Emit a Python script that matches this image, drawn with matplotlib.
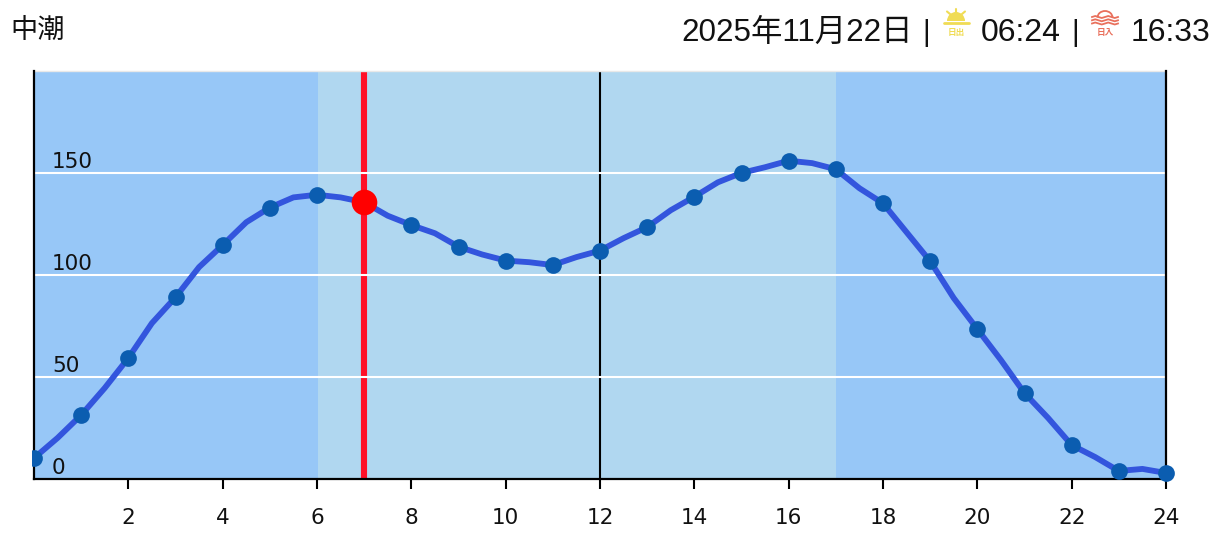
import matplotlib
matplotlib.use("Agg")
import matplotlib.pyplot as plt
from matplotlib.patches import Rectangle, Wedge, Arc
from matplotlib.transforms import IdentityTransform

hours = [0, 1, 2, 3, 4, 5, 6, 7, 8, 9, 10, 11, 12, 13, 14, 15, 16, 17, 18, 19, 20, 21, 22, 23, 24]
tide_hourly = [10.1, 31.2, 59.2, 89.0, 114.6, 133.0, 139.3, 135.6, 124.4, 113.8, 107.0, 104.8, 111.9,
               123.4, 138.3, 150.0, 156.0, 151.8, 135.1, 106.7, 73.4, 42.0, 16.5, 3.8, 2.8]
half_hours = [0.0, 0.5, 1.0, 1.5, 2.0, 2.5, 3.0, 3.5, 4.0, 4.5, 5.0, 5.5, 6.0, 6.5, 7.0, 7.5, 8.0, 8.5,
              9.0, 9.5, 10.0, 10.5, 11.0, 11.5, 12.0, 12.5, 13.0, 13.5, 14.0, 14.5, 15.0, 15.5, 16.0,
              16.5, 17.0, 17.5, 18.0, 18.5, 19.0, 19.5, 20.0, 20.5, 21.0, 21.5, 22.0, 22.5, 23.0, 23.5, 24.0]
tide_curve = [10.1, 20.0, 31.2, 44.5, 59.2, 76.3, 89.0, 103.8, 114.6, 125.8, 133.0, 138.0, 139.3, 138.0,
              135.6, 129.0, 124.4, 120.4, 113.8, 110.0, 107.0, 106.2, 104.8, 108.7, 111.9, 118.0, 123.4,
              131.7, 138.3, 145.4, 150.0, 152.8, 156.0, 154.8, 151.8, 142.5, 135.1, 120.9, 106.7, 88.6,
              73.4, 58.2, 42.0, 29.8, 16.5, 10.6, 3.8, 4.8, 2.8]
x_ticks = [2, 4, 6, 8, 10, 12, 14, 16, 18, 20, 22, 24]
y_levels = [0, 50, 100, 150]
grid_levels = [50, 100, 150]
day_start, day_end = 6, 17
noon = 12
now_hour, now_value = 7, 135.6

title_left = "中潮"
date_text = "2025年11月22日"
sunrise_text = "06:24"
sunset_text = "16:33"
separator = "|"

W, H = 1228, 552
fig = plt.figure(figsize=(W / 100, H / 100), dpi=100, facecolor="white")
L, R, T, B = 34, 1166, 71, 478.7
ax = fig.add_axes([L / W, 1 - B / H, (R - L) / W, (B - T) / H])
ax.set_xlim(0, 24)
ax.set_ylim(0, 200)
ax.set_facecolor("#97C7F7")

ax.axvspan(day_start + 0.02, day_end, color="#B0D7F0", lw=0, zorder=1)
ax.axvline(noon, color="black", lw=1.5, zorder=2)
ax.axvline(now_hour, color="#FF1028", lw=4.4, zorder=2)
for v in grid_levels:
    ax.axhline(v, color="white", lw=1.5, zorder=3)

ax.plot(half_hours, tide_curve, color="#3355DD", lw=4.2, zorder=4,
        solid_joinstyle="round", solid_capstyle="round")
clip = Rectangle((32, 0), W, H, transform=IdentityTransform())
pts = ax.scatter(hours, tide_hourly, s=145, color="#0B5DB0", lw=0, zorder=5, clip_on=True)
pts.set_clip_path(clip)
ax.scatter([now_hour], [now_value], s=340, color="#FF0000", lw=0, zorder=6, clip_on=False)

for side in ("left", "right", "bottom"):
    ax.spines[side].set_linewidth(1.6)
    ax.spines[side].set_color("black")
    ax.spines[side].set_zorder(4)
ax.spines["top"].set_color("#E8E8E8")
ax.spines["top"].set_linewidth(1.0)

ax.set_xticks(x_ticks)
ax.set_xticklabels([str(t) for t in x_ticks], fontsize=15.5, family="DejaVu Sans", color="#111111")
ax.tick_params(axis="x", length=7, width=1.5, pad=14, color="black")
ax.set_yticks([])

for v in y_levels:
    ax.annotate(str(v), xy=(0, v), xytext=(18, 1), textcoords="offset pixels",
                fontsize=15.5, family="DejaVu Sans", color="#111111", va="bottom", ha="left",
                annotation_clip=False, zorder=7)

over = fig.add_axes([0, 0, 1, 1], facecolor="none")
over.set_xlim(0, W)
over.set_ylim(H, 0)
over.axis("off")

head_font = ["Liberation Sans", "Noto Sans CJK JP"]
dark = "#111111"
over.text(10, 30, title_left, fontsize=19.6, family=["Noto Sans CJK JP"], va="center", ha="left", color=dark)
over.text(681, 33, date_text, fontsize=22.6, family=head_font, va="center", ha="left", color=dark)
over.text(926, 33, separator, fontsize=21, family=head_font, va="center", ha="center", color=dark)
over.text(981, 33, sunrise_text, fontsize=23.0, family=head_font, va="center", ha="left", color=dark)
over.text(1075, 33, separator, fontsize=21, family=head_font, va="center", ha="center", color=dark)
over.text(1131, 33, sunset_text, fontsize=23.0, family=head_font, va="center", ha="left", color=dark)

# sunrise icon
sun = "#F0DC55"
cx, cy = 956, 21
over.add_patch(Wedge((cx, cy), 9, 180, 360, color=sun, lw=0))
over.plot([cx - 12.5, cx + 12.5], [cy + 1.5, cy + 1.5], color=sun, lw=2.0, solid_capstyle="round")
for x0, y0, x1, y1 in [(cx, 8.5, cx, 11.5), (947, 11.5, 950, 14), (965, 11.5, 962, 14)]:
    over.plot([x0, x1], [y0, y1], color=sun, lw=1.5, solid_capstyle="round")
over.text(cx, 32.5, "日出", fontsize=6.2, family=["Noto Sans CJK JP"], weight="bold", color=sun, ha="center", va="center")

# sunset icon
red = "#E9705C"
cx2 = 1105
over.add_patch(Arc((cx2, 17.5), 15, 13, theta1=180, theta2=360, color=red, lw=1.3))
wave = [0, -1, 0, 1, 0, -1, 0, 1, 0]
for wy in (17, 20.3, 23.5):
    over.plot([1092 + i * 26 / 8 for i in range(9)], [wy + d for d in wave], color=red, lw=1.3)
over.text(cx2, 32.5, "日入", fontsize=6.2, family=["Noto Sans CJK JP"], weight="bold", color=red, ha="center", va="center")

fig.savefig("out.png", dpi=100)
